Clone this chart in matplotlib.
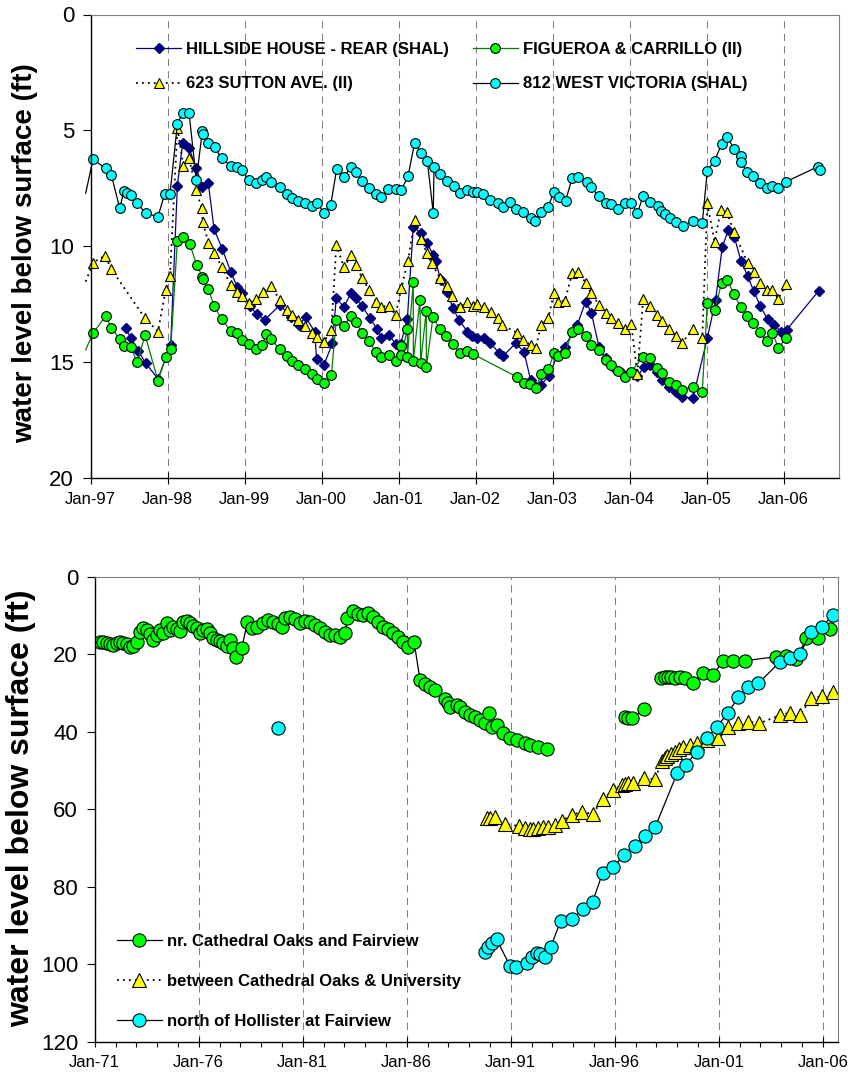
import numpy as np
import matplotlib
matplotlib.use("Agg")
import matplotlib.pyplot as plt

plt.rcParams["font.family"] = ["Liberation Sans", "DejaVu Sans"]

nan = np.nan

# ---- top panel (decimal years, ft below surface) ----
hill_x = [1997.455, 1997.519, 1997.615, 1997.714, 1997.874, 1998.039, 1998.126, 1998.195, 1998.277,
          1998.372, 1998.450, 1998.528, 1998.602, 1998.710, 1998.818, 1998.905, 1998.970, 1999.065,
          1999.156, 1999.260, 1999.459, 1999.597, 1999.706, 1999.792, 1999.909, 1999.935, 2000.030,
          2000.139, 2000.190, 2000.290, 2000.377, 2000.442, 2000.528, 2000.628, 2000.723, 2000.775,
          2000.874, 2000.961, 2001.026, 2001.113, 2001.190, 2001.286, 2001.372, 2001.450, 2001.481,
          2001.545, 2001.632, 2001.706, 2001.784, 2001.892, 2001.957, 2002.022, 2002.108, 2002.186,
          2002.303, 2002.359, 2002.519, 2002.628, 2002.714, 2002.844, 2002.952, 2003.061, 2003.156,
          2003.320, 2003.429, 2003.502, 2003.602, 2003.688, 2003.797, 2003.905, 2004.100, 2004.186,
          2004.264, 2004.359, 2004.416, 2004.511, 2004.597, 2004.684, 2004.822, 2005.009, 2005.117,
          2005.203, 2005.281, 2005.359, 2005.446, 2005.532, 2005.610, 2005.697, 2005.792, 2005.879,
          2005.965, 2006.039, 2006.455]
hill_y = [13.51, 13.97, 14.50, 15.05, 15.72, 14.26, 7.38, 5.53, 5.77,
          6.64, 7.43, 7.28, 9.25, 10.13, 11.09, 11.77, 12.03, 12.57,
          12.93, 13.18, 12.53, 13.06, 13.39, 13.06, 13.68, 14.88, 15.12,
          14.19, 12.24, 12.63, 12.03, 12.24, 12.58, 13.11, 13.58, 13.97,
          13.83, 14.21, 14.21, 13.15, 9.15, 9.44, 9.87, 10.38, 10.62,
          11.45, 11.96, 12.68, 13.18, 13.68, 13.89, 13.97, 13.97, 14.16,
          14.59, 14.73, 14.19, 14.55, 15.77, 15.98, 15.62, 14.69, 14.33,
          13.40, 12.39, 12.86, 14.33, 14.83, 15.26, 15.48, 15.62, 15.22,
          15.12, 15.41, 15.77, 16.06, 16.30, 16.49, 16.56, 13.97, 12.32,
          10.04, 9.30, 9.58, 10.62, 11.28, 11.91, 12.58, 13.15, 13.40,
          13.68, 13.61, 11.93]

# first point of the next three series sits just left of the axis (line stub only)
fig_x = [1996.935, 1997.030, 1997.195, 1997.268, 1997.377, 1997.433, 1997.519, 1997.606, 1997.706,
         1997.874, 1997.974, 1998.039, 1998.126, 1998.203, 1998.286, 1998.377, 1998.450, 1998.455,
         1998.528, 1998.602, 1998.701, 1998.818, 1998.905, 1998.961, 1999.056, 1999.152, 1999.229,
         1999.281, 1999.338, 1999.459, 1999.554, 1999.610, 1999.693, 1999.779, 1999.879, 1999.944,
         2000.030, 2000.126, 2000.190, 2000.290, 2000.385, 2000.442, 2000.528, 2000.615, 2000.701,
         2000.766, 2000.874, 2000.961, 2001.035, 2001.036, 2001.113, 2001.114, 2001.190, 2001.191,
         2001.277, 2001.286, 2001.359, 2001.360, 2001.446, 2001.532, 2001.619, 2001.706, 2001.792,
         2001.892, 2001.970, 2002.532, 2002.628, 2002.706, 2002.779, 2002.853, 2002.944, 2003.017,
         2003.069, 2003.160, 2003.255, 2003.329, 2003.429, 2003.502, 2003.602, 2003.697, 2003.753,
         2003.848, 2003.935, 2004.022, 2004.177, 2004.264, 2004.359, 2004.416, 2004.511, 2004.597,
         2004.684, 2004.822, 2004.944, 2005.009, 2005.108, 2005.195, 2005.268, 2005.355, 2005.442,
         2005.528, 2005.606, 2005.693, 2005.779, 2005.853, 2005.931, 2006.035]
fig_y = [14.47, 13.75, 13.01, 13.51, 14.01, 14.30, 14.36, 15.01, 13.83,
         15.80, 14.80, 14.43, 9.76, 9.58, 9.90, 10.81, 11.31, 11.43,
         11.84, 12.57, 13.15, 13.65, 13.76, 14.04, 14.23, 14.43, 14.26,
         13.78, 14.01, 14.45, 14.73, 14.95, 15.12, 15.31, 15.51, 15.74,
         15.91, 15.55, 13.18, 13.42, 13.00, 13.29, 13.73, 14.08, 14.55,
         14.79, 14.69, 14.93, 14.29, 14.69, 13.58, 14.76, 11.53, 14.93,
         12.31, 15.02, 12.78, 15.22, 13.06, 13.57, 13.86, 14.23, 14.59,
         14.50, 14.66, 15.63, 15.88, 15.96, 16.13, 15.51, 15.31, 14.62,
         14.73, 14.62, 13.68, 13.57, 13.87, 14.26, 14.47, 14.90, 15.12,
         15.38, 15.63, 15.41, 14.76, 14.83, 15.24, 15.48, 15.84, 15.98,
         16.20, 16.06, 16.27, 12.46, 12.75, 11.57, 11.45, 12.06, 12.63,
         13.01, 13.32, 13.68, 14.07, 13.73, 14.37, 13.97]

sutton_x = [1996.935, 1997.030, 1997.186, 1997.268, 1997.706, 1997.874, 1997.974, 1998.030, 1998.126,
            1998.203, 1998.277, 1998.372, 1998.440, 1998.455, 1998.528, 1998.602, 1998.701, 1998.818,
            1998.905, 1998.961, 1999.056, 1999.143, 1999.238, 1999.338, 1999.459, 1999.554, 1999.610,
            1999.693, 1999.784, 1999.879, 1999.935, 2000.030, 2000.126, 2000.190, 2000.290, 2000.385,
            2000.442, 2000.528, 2000.615, 2000.701, 2000.775, 2000.874, 2000.961, 2001.035, 2001.121,
            2001.208, 2001.286, 2001.364, 2001.429, 2001.537, 2001.632, 2001.697, 2001.792, 2001.892,
            2001.970, 2002.022, 2002.108, 2002.195, 2002.290, 2002.346, 2002.532, 2002.619, 2002.714,
            2002.779, 2002.853, 2002.944, 2003.017, 2003.069, 2003.160, 2003.255, 2003.329, 2003.429,
            2003.502, 2003.602, 2003.697, 2003.753, 2003.848, 2003.935, 2004.022, 2004.100, 2004.177,
            2004.264, 2004.359, 2004.416, 2004.511, 2004.597, 2004.684, 2004.822, 2004.944, 2005.009,
            2005.104, 2005.186, 2005.260, 2005.359, 2005.532, 2005.610, 2005.697, 2005.779, 2005.853,
            2005.931, 2006.035]
sutton_y = [11.53, 10.71, 10.40, 10.99, 13.11, 13.68, 11.88, 11.28, 4.88,
            6.52, 6.21, 7.57, 8.36, 8.94, 9.84, 10.27, 10.88, 11.67,
            11.96, 12.14, 12.43, 12.29, 11.96, 11.71, 12.32, 12.75, 12.96,
            13.18, 13.44, 13.73, 13.93, 14.12, 13.61, 9.94, 10.91, 10.37,
            10.80, 11.38, 11.88, 12.39, 12.60, 12.58, 12.96, 11.81, 10.63,
            8.87, 9.70, 10.27, 10.73, 11.38, 11.71, 12.14, 12.63, 12.39,
            12.57, 12.49, 12.60, 12.82, 13.11, 13.39, 13.73, 14.04, 14.26,
            14.40, 13.39, 13.11, 12.00, 12.39, 12.35, 11.14, 11.09, 11.57,
            12.03, 12.53, 12.89, 13.11, 13.32, 13.58, 13.35, 15.51, 12.29,
            12.57, 12.96, 13.21, 13.58, 13.87, 14.16, 13.57, 13.97, 8.15,
            9.80, 8.43, 8.51, 9.40, 10.71, 11.09, 11.57, 11.88, 11.88,
            12.27, 11.63]

vic_x = [1996.935, 1997.030, 1997.195, 1997.268, 1997.377, 1997.433, 1997.476, 1997.519, 1997.606,
         1997.714, 1997.874, 1997.961, 1998.030, 1998.126, 1998.195, 1998.277, 1998.372, 1998.450,
         1998.459, 1998.528, 1998.610, 1998.701, 1998.818, 1998.905, 1998.961, 1999.056, 1999.152,
         1999.229, 1999.281, 1999.338, 1999.455, 1999.554, 1999.610, 1999.693, 1999.779, 1999.879,
         1999.944, 2000.030, 2000.117, 2000.195, 2000.290, 2000.385, 2000.442, 2000.528, 2000.615,
         2000.701, 2000.775, 2000.861, 2000.961, 2001.035, 2001.121, 2001.208, 2001.286, 2001.372,
         2001.450, 2001.459, 2001.537, 2001.623, 2001.719, 2001.797, 2001.892, 2001.965, 2002.022,
         2002.095, 2002.186, 2002.290, 2002.355, 2002.446, 2002.519, 2002.619, 2002.714, 2002.771,
         2002.853, 2002.944, 2003.017, 2003.082, 2003.169, 2003.255, 2003.329, 2003.450, 2003.494,
         2003.602, 2003.697, 2003.753, 2003.848, 2003.935, 2004.022, 2004.100, 2004.177, 2004.264,
         2004.368, 2004.411, 2004.455, 2004.519, 2004.597, 2004.693, 2004.822, 2004.944, 2005.009,
         2005.104, 2005.195, 2005.268, 2005.355, 2005.442, 2005.450, 2005.528, 2005.606, 2005.688,
         2005.779, 2005.853, 2005.926, 2006.035, 2006.450, 2006.468]
vic_y = [7.71, 6.25, 6.64, 6.92, 8.36, 7.60, 7.69, 7.79, 8.15,
         8.58, 8.72, 7.74, 7.74, 4.72, 4.23, 4.23, 7.14, 5.03,
         5.17, 5.56, 5.73, 6.20, 6.54, 6.59, 6.71, 7.14, 7.28,
         7.14, 7.02, 7.21, 7.43, 7.76, 7.93, 8.05, 8.12, 8.25,
         8.12, 8.58, 8.22, 6.68, 7.02, 6.56, 6.78, 7.18, 7.50,
         7.74, 7.89, 7.53, 7.53, 7.57, 6.99, 5.53, 5.96, 6.31,
         8.58, 6.59, 6.88, 7.18, 7.38, 7.71, 7.57, 7.67, 7.67,
         7.74, 8.00, 8.15, 8.32, 8.10, 8.40, 8.52, 8.79, 8.91,
         8.53, 8.29, 7.64, 7.86, 8.03, 7.04, 7.00, 7.21, 7.46,
         7.82, 8.12, 8.18, 8.39, 8.12, 8.12, 8.58, 7.82, 8.07,
         8.25, 8.48, 8.62, 8.76, 8.97, 9.12, 8.91, 9.01, 6.74,
         6.31, 5.59, 5.27, 5.80, 6.09, 6.38, 6.81, 6.95, 7.25,
         7.47, 7.38, 7.47, 7.21, 6.56, 6.71]

top_ticks = list(range(1997, 2007))
top_labels = ["Jan-97", "Jan-98", "Jan-99", "Jan-00", "Jan-01", "Jan-02", "Jan-03", "Jan-04", "Jan-05", "Jan-06"]

# ---- bottom panel ----
cath_x = [1971.256, 1971.417, 1971.577, 1971.737, 1971.897, 1972.058, 1972.218, 1972.378, 1972.538,
          1972.699, 1972.859, 1973.019, 1973.179, 1973.340, 1973.500, 1973.660, 1973.821, 1973.981,
          1974.141, 1974.301, 1974.462, 1974.622, 1974.782, 1974.942, 1975.103, 1975.263, 1975.423,
          1975.583, 1975.744, 1975.904, 1976.064, 1976.224, 1976.385, 1976.545, 1976.705, 1976.865,
          1977.026, 1977.186, 1977.346, 1977.506, 1977.667, 1977.795, 1978.067, 1978.340, 1978.548,
          1978.788, 1979.109, 1979.349, 1979.590, 1979.830, 1979.990, 1980.151, 1980.391, 1980.631,
          1980.872, 1981.112, 1981.353, 1981.593, 1981.833, 1982.074, 1982.314, 1982.554, 1982.795,
          1983.035, 1983.147, 1983.404, 1983.644, 1983.917, 1984.157, 1984.397, 1984.638, 1984.878,
          1985.119, 1985.359, 1985.599, 1985.840, 1986.080, 1986.353, 1986.641, 1986.881, 1987.122,
          1987.362, 1987.843, 1987.988, 1988.083, 1988.404, 1988.563, 1988.803, 1989.044, 1989.284,
          1989.524, 1989.765, 1989.973, 1990.085, 1990.326, 1990.646, 1990.967, 1991.288, 1991.688,
          1991.929, 1992.329, 1992.730, nan,
          1996.496, 1996.657, 1996.817, 1997.410, nan,
          1998.240, 1998.401, 1998.561, 1998.721, 1998.881, 1999.122, 1999.362, 1999.763, 2000.243,
          2000.724, 2001.205, 2001.686, 2002.247, 2003.769, 2004.250, 2004.731, 2005.212, 2005.772,
          2006.333]
cath_y = [16.95, 16.77, 17.03, 17.38, 17.63, 17.03, 16.77, 17.20, 17.38,
          18.06, 17.89, 16.77, 14.19, 13.33, 13.76, 14.80, 16.34, 15.05,
          13.76, 14.62, 12.04, 13.76, 13.08, 13.59, 13.94, 11.61, 11.35,
          12.04, 12.73, 13.33, 14.62, 13.76, 13.59, 14.62, 15.91, 16.34,
          16.52, 17.03, 17.89, 16.34, 18.49, 20.80, 18.49, 11.78, 13.33,
          13.08, 12.04, 11.18, 11.61, 12.22, 12.90, 10.75, 10.32, 11.01,
          11.87, 11.35, 11.61, 12.47, 13.33, 14.19, 15.05, 15.05, 15.48,
          14.62, 10.75, 8.77, 9.63, 9.89, 9.29, 10.49, 11.61, 12.90,
          13.59, 14.45, 15.48, 16.77, 18.24, 16.77, 26.67, 27.70, 28.39,
          29.25, 31.66, 32.50, 33.55, 33.12, 33.55, 34.84, 35.70, 36.13,
          36.99, 37.85, 35.10, 38.71, 38.28, 40.43, 41.72, 42.15, 43.01,
          43.44, 43.87, 44.56, nan,
          36.13, 36.56, 36.56, 34.24, nan,
          26.24, 25.98, 25.98, 25.98, 26.24, 25.98, 26.24, 27.53, 24.77,
          25.38, 21.68, 21.68, 21.68, 20.65, 20.47, 21.33, 15.91, 15.91,
          13.59]

univ_x = [1989.845, 1990.005, 1990.245, 1990.726, 1991.415, 1991.688, 1991.929, 1992.089, 1992.329,
          1992.569, 1992.810, 1993.130, 1993.451, 1993.932, 1994.412, 1994.941, 1995.422, 1995.935,
          1996.335, 1996.496, 1996.657, 1996.897, 1997.410, 1997.939, 1998.276, 1998.404, 1998.532,
          1998.692, 1998.885, 1999.077, 1999.285, 1999.606, 1999.943, 2000.424, 2000.985, 2001.466,
          2001.946, 2002.427, 2002.956, 2003.950, 2004.431, 2004.912, 2005.441, 2005.954, 2006.483]
univ_y = [62.37, 62.37, 62.11, 63.83, 64.34, 64.95, 65.20, 65.20, 64.95,
          64.69, 64.52, 64.09, 62.97, 61.51, 60.65, 61.25, 57.46, 55.05,
          53.76, 53.51, 53.33, 53.33, 52.04, 52.30, 47.48, 46.88, 46.28,
          45.76, 45.16, 44.56, 44.04, 43.44, 43.01, 42.15, 41.72, 38.88,
          37.68, 37.42, 37.85, 35.70, 35.10, 35.70, 31.40, 30.80, 29.68]

holl_x = [1979.830, nan,
          1989.765, 1989.925, 1990.085, 1990.326, 1990.967, 1991.255, 1991.768, 1992.008, 1992.249,
          1992.409, 1992.650, 1992.922, 1993.403, 1993.932, 1994.460, 1994.941, 1995.422, 1995.903,
          1996.463, 1996.976, 1997.457, 1997.938, 1999.011, 1999.428, 1999.941, 2000.422, 2000.902,
          2001.463, 2001.944, 2002.425, 2002.905, 2003.947, 2004.428, 2004.909, 2005.437, 2005.950,
          2006.480]
holl_y = [39.14, nan,
          96.77, 95.65, 94.62, 93.59, 100.47, 100.65, 99.61, 98.24, 97.20,
          97.38, 98.06, 95.65, 88.77, 88.42, 85.84, 83.86, 76.38, 75.00,
          71.83, 69.51, 66.92, 64.69, 50.58, 48.60, 45.16, 41.72, 38.71,
          35.10, 30.97, 28.56, 27.53, 21.94, 21.08, 19.96, 14.19, 13.08,
          9.89]

bot_ticks = list(range(1971, 2007, 5))
bot_labels = ["Jan-71", "Jan-76", "Jan-81", "Jan-86", "Jan-91", "Jan-96", "Jan-01", "Jan-06"]

W, H = 848, 1075
GRAY = "#808080"
DOTS = (0, (1, 2.3))

fig = plt.figure(figsize=(W / 100, H / 100), dpi=100)
ax1 = fig.add_axes([90.7 / W, 1 - 478 / H, (839 - 90.7) / W, (478 - 14.5) / H])
ax2 = fig.add_axes([94.7 / W, 1 - 1041.7 / H, (837.7 - 94.7) / W, (1041.7 - 576.7) / H])


def frame(ax, x0, x1, ymax, yticks, xlen, xpad):
    ax.set_xlim(x0, x1)
    ax.set_ylim(ymax, 0)
    ax.set_yticks(yticks)
    for s in ["top", "right"]:
        ax.spines[s].set_color(GRAY)
    for s in ["left", "bottom"]:
        ax.spines[s].set_linewidth(1.0)
    ax.tick_params(axis="y", direction="out", length=6, width=0.8, labelsize=16, pad=6)
    ax.tick_params(axis="x", which="major", direction="inout", length=xlen, width=0.8,
                   labelsize=12, pad=xpad)
    ax.tick_params(axis="x", which="minor", direction="out", length=3.5, width=0.8)
    ax.tick_params(top=False, right=False)
    ax.grid(axis="x", which="major", color=GRAY, linestyle=(0, (7, 5)), linewidth=0.75)
    ax.set_axisbelow(True)


# top panel
frame(ax1, 1997.0, 2006.72, 20, [0, 5, 10, 15, 20], 8.5, 6)
ax1.set_xticks(top_ticks)
ax1.set_xticklabels(top_labels)

l_hill, = ax1.plot(hill_x, hill_y, color="#000080", lw=0.9, marker="D", ms=5,
                   mfc="#000080", mec="#000080", clip_on=False,
                   label="HILLSIDE HOUSE - REAR (SHAL)")
l_fig, = ax1.plot(fig_x, fig_y, color="#008000", lw=0.9, marker="o", ms=7, mfc="#00FF00",
                  mec="black", mew=0.8, markevery=slice(1, None), clip_on=False,
                  label="FIGUEROA & CARRILLO (II)")
l_sut, = ax1.plot(sutton_x, sutton_y, color="black", lw=1.3, linestyle=DOTS, marker="^", ms=7.5,
                  mfc="#FFFF00", mec="black", mew=0.8, markevery=slice(1, None), clip_on=False,
                  label="623 SUTTON AVE. (II)")
l_vic, = ax1.plot(vic_x, vic_y, color="black", lw=0.9, marker="o", ms=7, mfc="#00FFFF",
                  mec="black", mew=0.8, markevery=slice(1, None), clip_on=False,
                  label="812 WEST VICTORIA (SHAL)")

ax1.legend(handles=[l_hill, l_sut, l_fig, l_vic], ncol=2, loc="upper left",
           bbox_to_anchor=(0.061, 0.94), frameon=False, borderpad=0, borderaxespad=0,
           prop={"weight": "bold", "size": 12}, handlelength=2.7, handletextpad=0.3,
           columnspacing=1.4, labelspacing=1.15, numpoints=1)

# bottom panel
frame(ax2, 1971.0, 2006.72, 120, [0, 20, 40, 60, 80, 100, 120], 7, 6)
ax2.set_xticks(bot_ticks)
ax2.set_xticklabels(bot_labels)
ax2.set_xticks(range(1971, 2007), minor=True)

l_cath, = ax2.plot(cath_x, cath_y, color="black", lw=0.9, marker="o", ms=9.5, mfc="#00FF00",
                   mec="black", mew=0.8, label="nr. Cathedral Oaks and Fairview")
l_univ, = ax2.plot(univ_x, univ_y, color="black", lw=1.3, linestyle=DOTS, marker="^", ms=10,
                   mfc="#FFFF00", mec="black", mew=0.8,
                   label="between Cathedral Oaks & University")
l_holl, = ax2.plot(holl_x, holl_y, color="black", lw=0.9, marker="o", ms=9.5, mfc="#00FFFF",
                   mec="black", mew=0.8, label="north of Hollister at Fairview")

ax2.legend(handles=[l_cath, l_univ, l_holl], loc="upper left", bbox_to_anchor=(0.030, 0.231),
           frameon=False, borderpad=0, borderaxespad=0, prop={"weight": "bold", "size": 12},
           handlelength=2.7, handletextpad=0.3, labelspacing=1.5, numpoints=1)

fig.text(25 / W, 1 - 253 / H, "water level below surface (ft)", rotation=90, fontsize=20,
         fontweight="bold", ha="center", va="center")
fig.text(21 / W, 1 - 808 / H, "water level below surface (ft)", rotation=90, fontsize=23,
         fontweight="bold", ha="center", va="center")

fig.savefig("out.png", dpi=100)
